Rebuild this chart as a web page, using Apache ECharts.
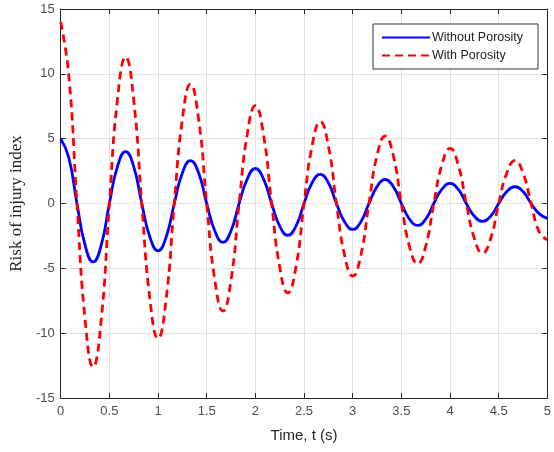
<!DOCTYPE html>
<html>
<head>
<meta charset="utf-8">
<script src="https://cdn.jsdelivr.net/npm/echarts@6/dist/echarts.min.js"></script>
<style>
  html, body { margin: 0; padding: 0; background: #fff; }
  #chart { width: 554px; height: 452px; }
</style>
</head>
<body>
<div id="chart"></div>
<script>
// time samples (s), read every 1/12 s
const times = [
  0, 0.083, 0.167, 0.25, 0.333, 0.417, 0.5, 0.583, 0.667, 0.75,
  0.833, 0.917, 1, 1.083, 1.167, 1.25, 1.333, 1.417, 1.5, 1.583,
  1.667, 1.75, 1.833, 1.917, 2, 2.083, 2.167, 2.25, 2.333, 2.417,
  2.5, 2.583, 2.667, 2.75, 2.833, 2.917, 3, 3.083, 3.167, 3.25,
  3.333, 3.417, 3.5, 3.583, 3.667, 3.75, 3.833, 3.917, 4, 4.083,
  4.167, 4.25, 4.333, 4.417, 4.5, 4.583, 4.667, 4.75, 4.833, 4.917, 5
];
const withoutPorosity = [
  5, 3.55, 0, -3.2, -4.5, -3.2, 0, 2.85, 4.0, 2.85,
  0, -2.6, -3.65, -2.6, 0, 2.35, 3.3, 2.35, 0, -2.1,
  -3.0, -2.1, 0, 1.9, 2.7, 1.9, 0, -1.75, -2.45, -1.75,
  0, 1.6, 2.25, 1.6, 0, -1.42, -2.0, -1.42, 0, 1.3,
  1.85, 1.3, 0, -1.2, -1.68, -1.2, 0, 1.1, 1.55, 1.1,
  0, -0.98, -1.38, -0.98, 0, 0.92, 1.29, 0.92, 0, -0.8, -1.14
];
const withPorosity = [
  14, 9.9, 0, -8.9, -12.6, -8.9, 0, 8.0, 11.3, 8.0,
  0, -7.4, -10.4, -7.4, 0, 6.5, 9.2, 6.5, 0, -5.9,
  -8.3, -5.9, 0, 5.35, 7.55, 5.35, 0, -4.9, -6.9, -4.9,
  0, 4.45, 6.3, 4.45, 0, -4.0, -5.6, -4.0, 0, 3.7,
  5.2, 3.7, 0, -3.3, -4.65, -3.3, 0, 3.0, 4.25, 3.0,
  0, -2.7, -3.83, -2.7, 0, 2.35, 3.3, 2.35, 0, -2.2, -2.8
];
const seriesNames = ['Without Porosity', 'With Porosity'];

const chart = echarts.init(document.getElementById('chart'));

function pairs(ys) {
  const out = [];
  for (let i = 0; i < times.length; i++) out.push([times[i], ys[i]]);
  return out;
}

const axisColor = '#262626';
const tickLabel = { color: '#4d4d4d', fontSize: 13, fontFamily: 'Liberation Sans, Arial, sans-serif' };

const option = {
  animation: false,
  backgroundColor: '#fff',
  grid: { left: 60, right: 4, top: 9, bottom: 54 },
  legend: {
    data: seriesNames,
    orient: 'vertical',
    left: 373,
    top: 24,
    padding: [7, 15, 7, 8],
    itemGap: 5,
    itemWidth: 48,
    itemHeight: 12,
    borderColor: '#333',
    borderWidth: 1,
    backgroundColor: '#fff',
    itemStyle: { opacity: 0 },
    textStyle: { color: '#222', fontSize: 12.5, fontFamily: 'Liberation Sans, Arial, sans-serif', padding: [0, 0, 0, -3] }
  },
  xAxis: [
    {
      type: 'value', min: 0, max: 5, interval: 0.5,
      name: 'Time, t (s)', nameLocation: 'middle', nameGap: 30,
      nameTextStyle: { color: axisColor, fontSize: 15, fontFamily: 'Liberation Sans, Arial, sans-serif' },
      axisLine: { show: true, onZero: false, lineStyle: { color: axisColor, width: 1 } },
      axisTick: { show: true, inside: true, length: 5, lineStyle: { color: axisColor } },
      axisLabel: Object.assign({ margin: 7 }, tickLabel),
      splitLine: { show: true, lineStyle: { color: '#e0e0e0', width: 1 } }
    },
    {
      type: 'value', min: 0, max: 5, interval: 0.5, position: 'top',
      axisLine: { show: true, onZero: false, lineStyle: { color: axisColor, width: 1 } },
      axisTick: { show: true, inside: true, length: 5, lineStyle: { color: axisColor } },
      axisLabel: { show: false },
      splitLine: { show: false }
    }
  ],
  yAxis: [
    {
      type: 'value', min: -15, max: 15, interval: 5,
      name: 'Risk of injury index', nameLocation: 'middle', nameGap: 33,
      nameTextStyle: { color: '#222', fontSize: 17, fontFamily: 'Liberation Serif, Times New Roman, serif' },
      axisLine: { show: true, onZero: false, lineStyle: { color: axisColor, width: 1 } },
      axisTick: { show: true, inside: true, length: 5, lineStyle: { color: axisColor } },
      axisLabel: Object.assign({ margin: 6 }, tickLabel),
      splitLine: { show: true, lineStyle: { color: '#e0e0e0', width: 1 } }
    },
    {
      type: 'value', min: -15, max: 15, interval: 5, position: 'right',
      axisLine: { show: true, onZero: false, lineStyle: { color: axisColor, width: 1 } },
      axisTick: { show: true, inside: true, length: 5, lineStyle: { color: axisColor } },
      axisLabel: { show: false },
      splitLine: { show: false }
    }
  ],
  series: [
    {
      name: seriesNames[0], type: 'line', smooth: 0.5, symbol: 'none',
      data: pairs(withoutPorosity),
      lineStyle: { color: '#0000ff', width: 2.8 },
      itemStyle: { color: '#0000ff' },
      z: 3
    },
    {
      name: seriesNames[1], type: 'line', smooth: 0.5, symbol: 'none',
      data: pairs(withPorosity),
      lineStyle: { color: '#ff0000', width: 2.8, type: [8, 5] },
      itemStyle: { color: '#ff0000' },
      z: 4
    }
  ]
};

chart.setOption(option);
</script>
</body>
</html>
